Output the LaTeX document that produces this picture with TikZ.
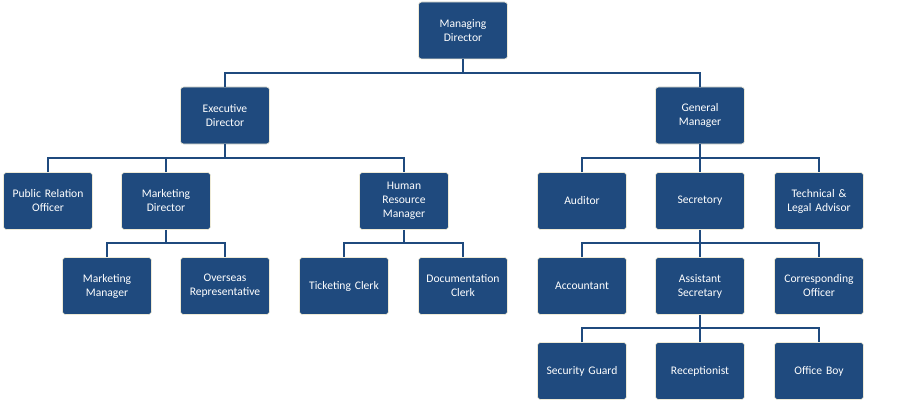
\documentclass[tikz,border=0pt]{standalone}
\usepackage{fontspec}
\setmainfont{Carlito}
\begin{document}
\begin{tikzpicture}[x=1pt,y=-1pt,
  box/.style={draw=boxedge, line width=0.6pt, fill=boxblue, rounded corners=3pt,
    minimum width=88pt, minimum height=57pt, inner sep=1pt, text width=87pt,
    align=center, text=white, font=\fontsize{11.6}{14}\selectfont},
  conn/.style={draw=lineblue, line width=2pt}]
\definecolor{boxblue}{HTML}{1F4A7E}
\definecolor{boxedge}{HTML}{EEEAD6}
\definecolor{lineblue}{HTML}{1F4A7E}
\useasboundingbox (0,0) rectangle (900,420);
\fill[white] (0,0) rectangle (900,420);
\coordinate (j1) at (463,73);
\coordinate (j2) at (225,158);
\coordinate (j3) at (700,158);
\coordinate (j4) at (166,243);
\coordinate (j5) at (404,243);
\coordinate (j6) at (700,243);
\coordinate (j7) at (700,328);
% nodes
\node[box] (md) at (463,30.5) {Managing\\Director};
\node[box] (ed) at (225,115.5) {Executive\\Director};
\node[box] (gm) at (700,115.5) {General\\Manager};
\node[box] (pro) at (48,201) {Public Relation\\Officer};
\node[box] (mkd) at (166,201) {Marketing\\Director};
\node[box] (hrm) at (404,201) {Human\\Resource\\Manager};
\node[box] (aud) at (582,201) {Auditor};
\node[box] (sec) at (700,201) {Secretory};
\node[box] (tla) at (819,201) {Technical \&\\Legal Advisor};
\node[box] (mm) at (107,286) {Marketing\\Manager};
\node[box] (osr) at (225,286) {Overseas\\Representative};
\node[box] (tc) at (344,286) {Ticketing Clerk};
\node[box] (dc) at (463,286) {Documentation\\Clerk};
\node[box] (acc) at (582,286) {Accountant};
\node[box] (asec) at (700,286) {Assistant\\Secretary};
\node[box] (co) at (819,286) {Corresponding\\Officer};
\node[box] (sg) at (582,371) {Security Guard};
\node[box] (rec) at (700,371) {Receptionist};
\node[box] (ob) at (819,371) {Office Boy};
% connectors
\draw[conn] (md.south) -- (j1);
\draw[conn] (ed.north) |- (j1) -| (gm.north);
\draw[conn] (ed.south) -- (j2);
\draw[conn] (pro.north) |- (j2) -| (hrm.north);
\draw[conn] (mkd.north) -- (mkd.north |- j2);
\draw[conn] (gm.south) -- (j3);
\draw[conn] (aud.north) |- (j3) -| (tla.north);
\draw[conn] (sec.north) -- (j3);
\draw[conn] (mkd.south) -- (j4);
\draw[conn] (mm.north) |- (j4) -| (osr.north);
\draw[conn] (hrm.south) -- (j5);
\draw[conn] (tc.north) |- (j5) -| (dc.north);
\draw[conn] (sec.south) -- (j6);
\draw[conn] (acc.north) |- (j6) -| (co.north);
\draw[conn] (asec.north) -- (j6);
\draw[conn] (asec.south) -- (j7);
\draw[conn] (sg.north) |- (j7) -| (ob.north);
\draw[conn] (rec.north) -- (j7);
\end{tikzpicture}
\end{document}
